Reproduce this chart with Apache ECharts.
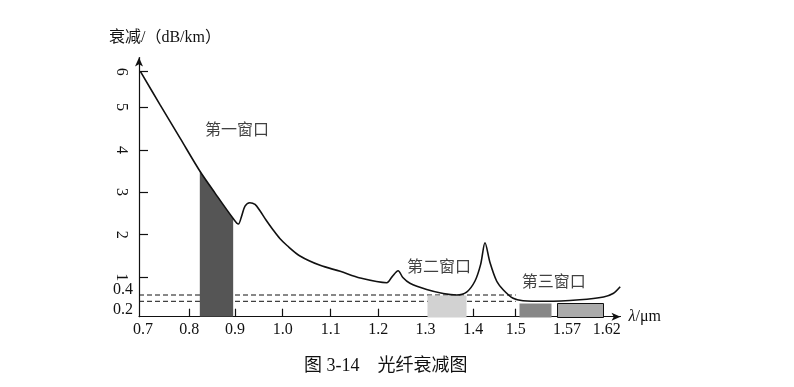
<!DOCTYPE html>
<html><head><meta charset="utf-8">
<script src="https://cdn.jsdelivr.net/npm/echarts@6/dist/echarts.min.js"></script>
<style>html,body{margin:0;padding:0;background:#fff}#c{width:794px;height:387px}</style>
</head><body><div id="c"></div>
<script>
// ---- axis ticks ----
const xTickValues = [0.7, 0.8, 0.9, 1.0, 1.1, 1.2, 1.3, 1.4, 1.5, 1.57, 1.62];   // λ, μm
const xTickLabels = ['0.7', '0.8', '0.9', '1.0', '1.1', '1.2', '1.3', '1.4', '1.5', '1.57', '1.62'];
const xTickMarks  = [0.8, 0.9, 1.0, 1.1, 1.2, 1.4, 1.5];
const yTickValues = [0, 0.2, 0.4, 1, 2, 3, 4, 5, 6];                              // dB/km
const yRotatedLabels = [1, 2, 3, 4, 5, 6];
const yFlatLabels = [0.2, 0.4];

// ---- attenuation curve ----
const wavelength  = [0.703, 0.742, 0.782, 0.823, 0.856, 0.896, 0.907, 0.914, 0.921, 0.931, 0.942, 0.952, 0.965, 0.980, 0.994,
                     1.009, 1.036, 1.078, 1.120, 1.162, 1.218, 1.229, 1.242, 1.252, 1.267, 1.3025, 1.337, 1.365, 1.386, 1.404,
                     1.4175, 1.4276, 1.439, 1.455, 1.471, 1.494, 1.510, 1.542, 1.586, 1.616, 1.628, 1.637];
const attenuation = [6.0, 5.06, 4.27, 3.50, 2.98, 2.38, 2.25, 2.44, 2.67, 2.75, 2.71, 2.567, 2.344, 2.11, 1.91,
                     1.746, 1.50, 1.28, 1.14, 0.976, 0.817, 1.01, 1.155, 0.993, 0.797, 0.586, 0.451, 0.40, 0.50, 0.875,
                     1.31, 1.81, 1.36, 0.875, 0.57, 0.295, 0.219, 0.20, 0.25, 0.337, 0.45, 0.68];

// ---- windows ----
const window1Range = [0.823, 0.896];                 // shaded under the curve
const windowBlocks = [[1.304, 1.385, 0.4], [1.505, 1.548, 0.18], [1.557, 1.616, 0.18]]; // [λ from, λ to, dB]
const dashLevels = [0.4, 0.2];
const dashRange = [0.7, 1.5];
const windowNames = ['第一窗口', '第二窗口', '第三窗口'];
const windowNameLambda = [0.904, 1.328, 1.552];
const windowNameDb = [4.44, 1.23, 0.807];

// ---- the drawing's (non-linear) scale: axis units at each tick ----
const xAxisStops = [0, 50.3, 96, 143.7, 191.7, 239.3, 286.5, 334.3, 376.7, 428, 467.7];
const yAxisStops = [0, 15.4, 21.7, 39.4, 82, 124.7, 166.7, 209.7, 245];

function warp(v, vals, stops) {
  let i = 0;
  while (i < vals.length - 2 && v > vals[i + 1]) i++;
  const t = (v - vals[i]) / (vals[i + 1] - vals[i]);
  return stops[i] + t * (stops[i + 1] - stops[i]);
}
const wx = v => warp(v, xTickValues, xAxisStops);
const wy = v => warp(v, yTickValues, yAxisStops);

const curve = wavelength.map((l, i) => [wx(l), wy(attenuation[i])]);
const fill1 = wavelength.map((l, i) => [l, attenuation[i]])
  .filter(p => p[0] >= window1Range[0] - 1e-9 && p[0] <= window1Range[1] + 1e-9)
  .map(p => [wx(p[0]), wy(p[1])]);

const SERIF = '"Liberation Serif","Times New Roman","Noto Sans CJK SC",serif';
const blockStyles = [
  { fill: '#d2d2d2' },
  { fill: '#878787' },
  { fill: '#ababab', stroke: '#111', lineWidth: 1 }
];

function nearestIndex(value, arr, f) {
  let best = 0, d = Infinity;
  arr.forEach((a, i) => { const dd = Math.abs(f(a) - value); if (dd < d) { d = dd; best = i; } });
  return best;
}

const chart = echarts.init(document.getElementById('c'), null, { renderer: 'canvas' });
chart.setOption({
  animation: false,
  backgroundColor: '#fff',
  title: [
    { text: '衰减/（dB/km）', left: 109, top: 30, padding: 0,
      textStyle: { fontFamily: SERIF, fontSize: 16, fontWeight: 'normal', color: '#111' } },
    { text: '图 3-14　光纤衰减图', left: 304, top: 357, padding: 0,
      textStyle: { fontFamily: SERIF, fontSize: 18, fontWeight: 'normal', color: '#111' } }
  ],
  grid: { left: 139, right: 173.5, top: 57.5, bottom: 70.3, containLabel: false, outerBoundsMode: 'none' },
  xAxis: {
    type: 'value', min: 0, max: 481.5,
    splitLine: { show: false },
    axisLine: { show: true, onZero: false, symbol: ['none', 'arrow'], symbolSize: [6, 9],
      lineStyle: { color: '#111', width: 1.2 } },
    axisTick: { show: true, inside: true, length: 8, customValues: xTickMarks.map(wx),
      lineStyle: { color: '#111', width: 1.2 } },
    axisLabel: {
      customValues: xTickValues.map(wx), margin: 5,
      fontFamily: SERIF, fontSize: 16, color: '#111',
      formatter: v => {
        const i = nearestIndex(v, xTickValues, wx);
        return i === 0 ? '{s|' + xTickLabels[i] + '}' : xTickLabels[i];
      },
      rich: { s: { padding: [0, 0, 0, 8], fontFamily: SERIF, fontSize: 16, color: '#111' } }
    },
    name: '{i|λ}/μm', nameLocation: 'end', nameGap: 8,
    nameTextStyle: { fontFamily: SERIF, fontSize: 16, color: '#111', verticalAlign: 'middle',
      rich: { i: { fontStyle: 'italic', fontFamily: SERIF, fontSize: 16, color: '#111' } } }
  },
  yAxis: [
    {
      type: 'value', min: 0, max: 259.2,
      splitLine: { show: false },
      axisLine: { show: true, onZero: false, symbol: ['none', 'arrow'], symbolSize: [6, 9],
        lineStyle: { color: '#111', width: 1.2 } },
      axisTick: { show: true, inside: true, length: 9, customValues: yRotatedLabels.map(wy),
        lineStyle: { color: '#111', width: 1.2 } },
      axisLabel: {
        customValues: yRotatedLabels.map(wy), rotate: -90, margin: 10,
        fontFamily: SERIF, fontSize: 16, color: '#111',
        formatter: v => String(yRotatedLabels[nearestIndex(v, yRotatedLabels, wy)])
      }
    },
    {
      type: 'value', min: 0, max: 259.2, position: 'left',
      splitLine: { show: false }, axisLine: { show: false }, axisTick: { show: false },
      axisLabel: {
        customValues: yFlatLabels.map(wy), margin: 6,
        fontFamily: SERIF, fontSize: 16, color: '#111',
        formatter: v => {
          const val = yFlatLabels[nearestIndex(v, yFlatLabels, wy)];
          return val === 0.4 ? '{up|0.4}' : '{dn|0.2}';
        },
        rich: {
          up: { padding: [0, 0, 11, 0], fontFamily: SERIF, fontSize: 16, color: '#111' },
          dn: { padding: [16, 0, 0, 0], fontFamily: SERIF, fontSize: 16, color: '#111' }
        }
      }
    }
  ],
  series: [
    ...dashLevels.map(lv => ({
      type: 'line', z: 1, silent: true, symbol: 'none',
      data: [[wx(dashRange[0]), wy(lv)], [wx(dashRange[1]), wy(lv)]],
      lineStyle: { color: '#111', width: 1, type: [5, 3] }
    })),
    {
      type: 'line', z: 2, silent: true, symbol: 'none', smooth: 0.25,
      data: fill1, lineStyle: { width: 0 },
      areaStyle: { color: '#555555', opacity: 1, origin: 'start' }
    },
    {
      type: 'custom', z: 2, silent: true,
      renderItem: (params, api) => {
        const p0 = api.coord([api.value(0), api.value(2)]);
        const p1 = api.coord([api.value(1), 0]);
        const st = blockStyles[params.dataIndex];
        return {
          type: 'rect',
          shape: { x: Math.round(p0[0]) + 0.5, y: Math.round(p0[1]) + 0.5,
                   width: Math.round(p1[0] - p0[0]), height: Math.round(p1[1] - p0[1]) },
          style: { fill: st.fill, stroke: st.stroke || null, lineWidth: st.lineWidth || 0 }
        };
      },
      data: windowBlocks.map(b => [wx(b[0]), wx(b[1]), wy(b[2])])
    },
    {
      type: 'line', z: 3, silent: true, symbol: 'none', smooth: 0.3,
      data: curve, lineStyle: { color: '#111', width: 1.6 }
    },
    {
      type: 'scatter', z: 4, silent: true, symbolSize: 1, itemStyle: { color: 'transparent' },
      data: windowNames.map((n, i) => ({ name: n, value: [wx(windowNameLambda[i]), wy(windowNameDb[i])] })),
      label: { show: true, position: 'inside', formatter: '{b}',
        fontFamily: SERIF, fontSize: 16, color: '#111' }
    }
  ]
});
</script>
</body></html>
